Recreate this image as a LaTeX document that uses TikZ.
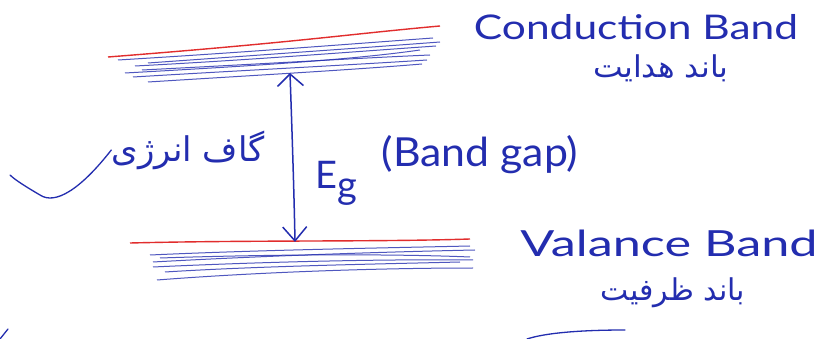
\documentclass[tikz,border=0pt]{standalone}
\usepackage{fontspec}
\setmainfont{Lato}
\newfontfamily\arabicfont[Script=Arabic]{DejaVu Sans}
\TeXXeTstate=1
\usetikzlibrary{arrows.meta}
\definecolor{ink}{RGB}{35,45,175}
\definecolor{redink}{RGB}{225,45,45}
\tikzset{
  handtext/.style={text=ink, inner sep=0pt, font=\fontsize{34}{40}\selectfont},
  persian/.style={text=ink, inner sep=0pt, font=\arabicfont\fontsize{30}{36}\selectfont},
  redline/.style={draw=redink, line width=1.4pt},
  hatch/.style={draw=ink, line width=1pt, opacity=0.8},
  inkstroke/.style={draw=ink, line width=1.3pt, line cap=round},
  gaparrow/.style={draw=ink, line width=1.5pt, {Straight Barb[length=12pt,width=26pt]}-{Straight Barb[length=14pt,width=24pt]}},
}
\begin{document}
\begin{tikzpicture}[x=1pt,y=-1pt]
\useasboundingbox[fill=white] (0,0) rectangle (817,339);
% conduction band
\draw[redline] (108,57) .. controls (300,42) and (350,34) .. (440,26);
\draw[hatch] (118,60) .. controls (250,52) and (350,44) .. (433,38);
\draw[hatch] (148,63) .. controls (260,55) and (360,48) .. (440,42);
\draw[hatch] (142,70) .. controls (260,64) and (360,58) .. (430,55);
\draw[hatch] (133,77) .. controls (250,70) and (350,65) .. (427,60);
\draw[hatch] (148,82) .. controls (260,75) and (350,70) .. (422,64);
\draw[hatch] (125,73) .. controls (250,66) and (350,60) .. (420,50);
\draw[hatch] (135,66) .. controls (250,60) and (350,52) .. (436,46);
% valence band
\draw[redline] (130,243) .. controls (250,240) and (380,242) .. (470,239);
\draw[hatch] (150,255) .. controls (260,250) and (380,248) .. (470,246);
\draw[hatch] (153,262) .. controls (260,256) and (380,252) .. (475,250);
\draw[hatch] (153,267) .. controls (260,262) and (380,259) .. (473,260);
\draw[hatch] (157,280) .. controls (260,272) and (380,268) .. (473,268);
\draw[hatch] (160,258) .. controls (280,254) and (400,254) .. (470,257);
\draw[hatch] (165,272) .. controls (260,266) and (380,264) .. (460,262);
% energy gap arrow
\coordinate (cb) at (290,73);
\coordinate (vb) at (295,242);
\draw[gaparrow] (cb) .. controls (292,130) and (294,190) .. (vb);
% labels
\node[handtext, xscale=1.25] (cond) at (636,27) {Conduction Band};
\node[persian, xscale=1.05] (condfa) at (661,68) {\beginR باند هدایت\endR};
\node[handtext, font=\fontsize{36}{42}\selectfont, xscale=1.4] (val) at (669,243) {Valance Band};
\node[persian] (valfa) at (673,293) {\beginR باند ظرفیت\endR};
\node[handtext, font=\fontsize{38}{44}\selectfont] (eg) at (336,183) {E\raisebox{-10pt}{g}};
\node[handtext, font=\fontsize{40}{46}\selectfont, xscale=1.07] (bandgap) at (480,155) {(Band gap)};
\node[persian, font=\arabicfont\fontsize{34}{40}\selectfont, anchor=east] (gap) at (265,150) {\beginR گاف انرژی\endR};
\coordinate (tailstart) at (gap.west);
\coordinate (tailend) at (10,175);
\draw[inkstroke] (tailstart) .. controls (80,190) and (55,205) .. (40,195) .. controls (28,188) and (15,180) .. (tailend);
% cut-off fragments at the lower edge
\coordinate (fa) at (0,339);
\coordinate (fb) at (8,329);
\draw[inkstroke] (fa) -- (fb);
\coordinate (fc) at (527,339);
\coordinate (fd) at (625,330);
\draw[inkstroke] (fc) .. controls (545,333) and (580,330) .. (fd);
\end{tikzpicture}
\end{document}
